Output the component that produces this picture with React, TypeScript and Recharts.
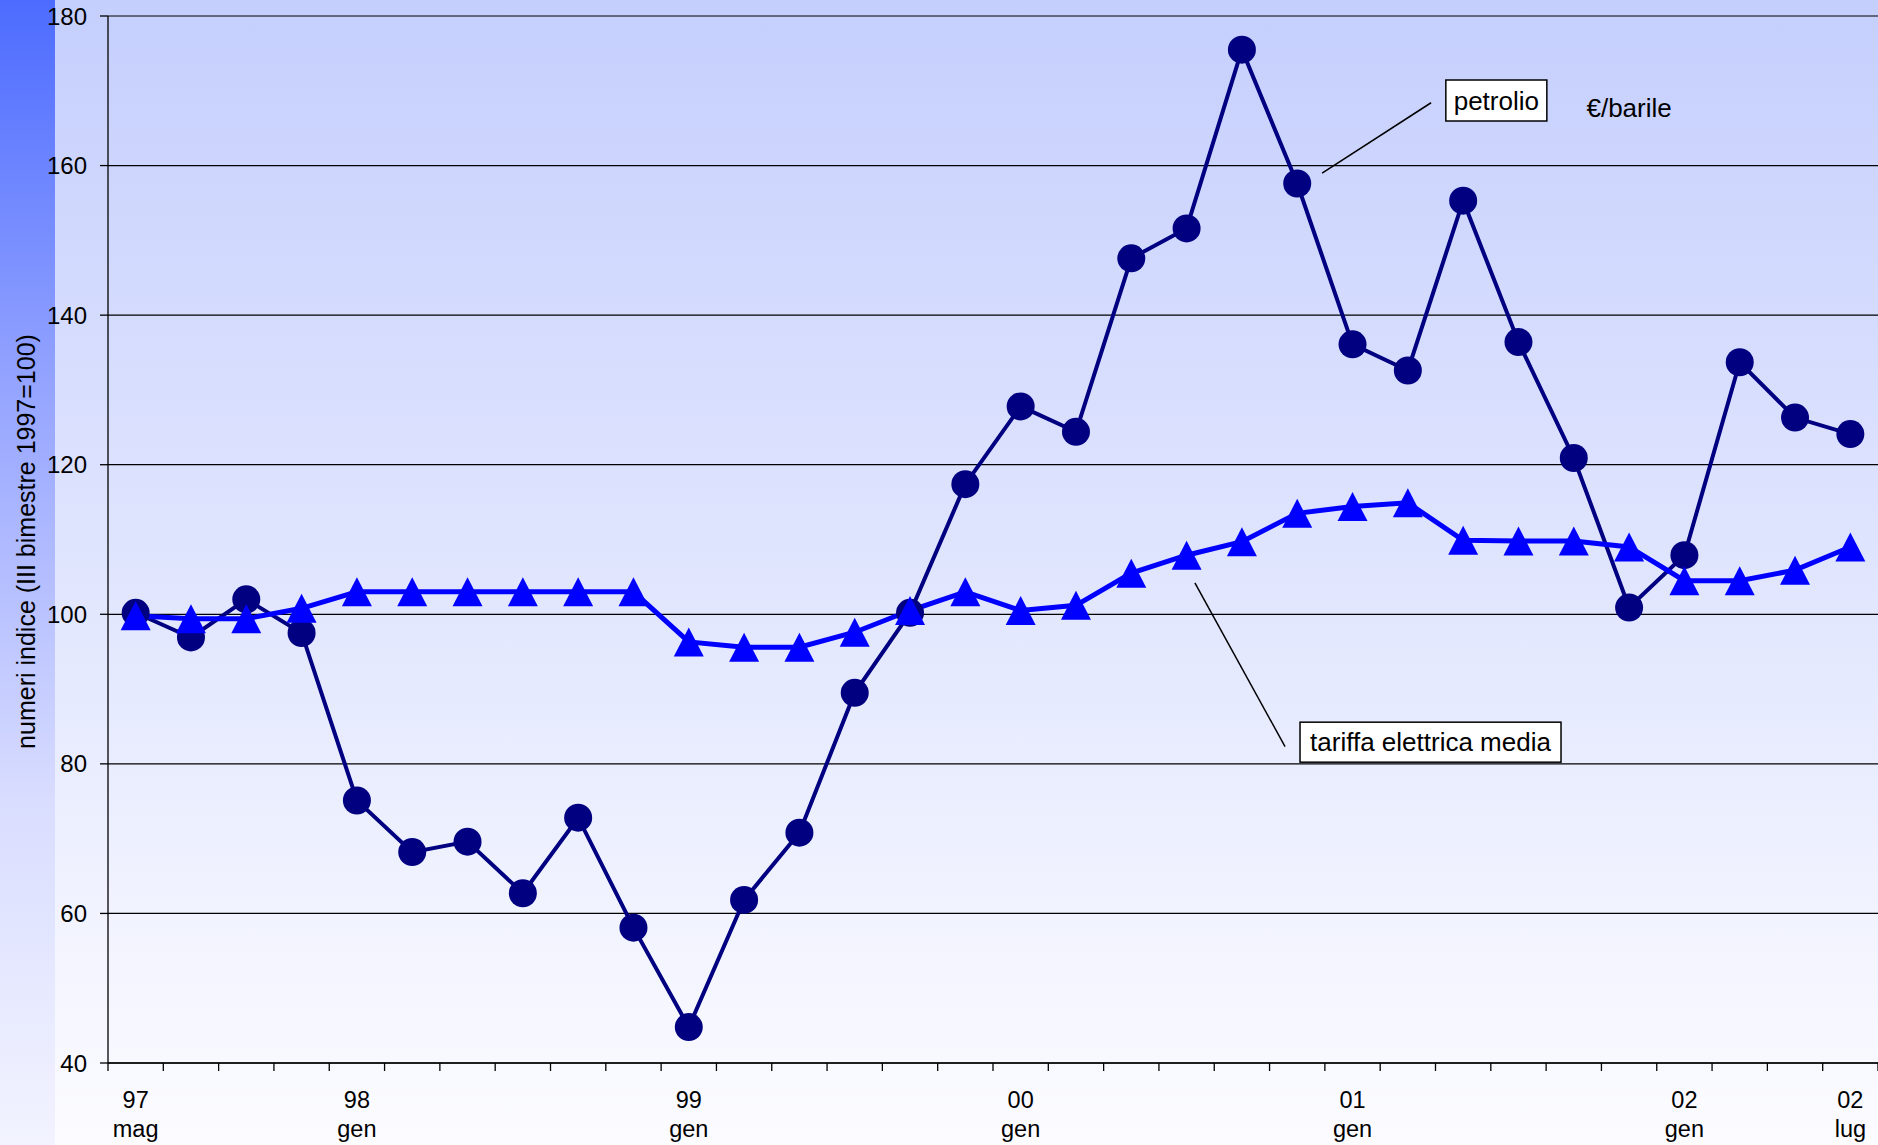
import React from "react";
import { LineChart, Line, XAxis, YAxis, CartesianGrid, ReferenceLine, ReferenceDot } from "recharts";

const periods = [
  "mag 97", "lug 97", "set 97", "nov 97",
  "gen 98", "mar 98", "mag 98", "lug 98", "set 98", "nov 98",
  "gen 99", "mar 99", "mag 99", "lug 99", "set 99", "nov 99",
  "gen 00", "mar 00", "mag 00", "lug 00", "set 00", "nov 00",
  "gen 01", "mar 01", "mag 01", "lug 01", "set 01", "nov 01",
  "gen 02", "mar 02", "mag 02", "lug 02",
];

const labeledPeriods = ["mag 97", "gen 98", "gen 99", "gen 00", "gen 01", "gen 02", "lug 02"];

const petrolio = [
  100.2, 96.9, 102.0, 97.5, 75.1, 68.2, 69.6, 62.7, 72.8, 58.1, 44.8, 61.8, 70.8, 89.5, 100.2, 117.4,
  127.8, 124.4, 147.6, 151.6, 175.5, 157.6, 136.1, 132.6, 155.3, 136.4, 120.9, 100.9, 107.9, 133.7, 126.3, 124.1,
];

const tariffa = [
  99.8, 99.4, 99.4, 100.8, 103.0, 103.0, 103.0, 103.0, 103.0, 103.0, 96.3, 95.6, 95.6, 97.6, 100.5, 103.0,
  100.5, 101.2, 105.5, 107.9, 109.7, 113.5, 114.4, 114.9, 109.9, 109.8, 109.8, 109.0, 104.5, 104.5, 105.9, 109.0,
];

const yTicks = [40, 60, 80, 100, 120, 140, 160, 180];

const data = periods.map((p, i) => ({ idx: i, period: p, petrolio: petrolio[i], tariffa: tariffa[i] }));

// tick marks sit between the periods, labels on the periods
const boundaries = periods.map((_, i) => i - 0.5).concat(periods.length - 0.5);
const labelIdx = labeledPeriods.map((p) => periods.indexOf(p));
const xTicks = [...boundaries, ...labelIdx];

const FONT = "'Liberation Sans', Arial, sans-serif";

const XTick = (props: any) => {
  const { x, y, payload } = props;
  const v = payload.value;
  if (!Number.isInteger(v)) {
    return <line x1={x} x2={x} y1={y} y2={y + 8} stroke="#000" strokeWidth={1.3} />;
  }
  const [m, yr] = periods[v].split(" ");
  return (
    <g fontFamily={FONT} fontSize={23.5} fill="#000">
      <text x={x} y={y + 45} textAnchor="middle">{yr}</text>
      <text x={x} y={y + 74} textAnchor="middle">{m}</text>
    </g>
  );
};

const TriangleDot = (props: any) => {
  const { cx, cy } = props;
  if (cx == null || cy == null) return null;
  return (
    <polygon
      points={`${cx},${cy - 14.5} ${cx + 15},${cy + 14.5} ${cx - 15},${cy + 14.5}`}
      fill="#0000ff"
    />
  );
};

const boxShape = (text: string, w: number, h: number) => (props: any) => {
  const { cx, cy } = props;
  return (
    <g>
      <rect x={cx - w / 2} y={cy - h / 2} width={w} height={h} fill="#fff" stroke="#000" strokeWidth={1.5} />
      <text x={cx} y={cy + 9} textAnchor="middle" fontFamily={FONT} fontSize={26} fill="#000">
        {text}
      </text>
    </g>
  );
};

const plainText = (text: string) => (props: any) => {
  const { cx, cy } = props;
  return (
    <text x={cx} y={cy + 9} textAnchor="middle" fontFamily={FONT} fontSize={26} fill="#000">
      {text}
    </text>
  );
};

const YLabel = (props: any) => {
  const { viewBox } = props;
  const cy = viewBox.y + viewBox.height / 2 + 2;
  return (
    <text
      x={26}
      y={cy}
      transform={`rotate(-90, 26, ${cy})`}
      textAnchor="middle"
      dominantBaseline="central"
      fontFamily={FONT}
      fontSize={25}
      fill="#000"
    >
      numeri indice (III bimestre 1997=100)
    </text>
  );
};

export default function App() {
  return (
    <div style={{ position: "absolute", left: 0, top: 0, width: 1878, height: 1145 }}>
      <div
        style={{
          position: "absolute", left: 0, top: 0, width: 55, height: 1145,
          background: "linear-gradient(to bottom, #4d6cff 0%, #97a6ff 35%, #d9ddff 70%, #f2f3ff 100%)",
        }}
      />
      <div
        style={{
          position: "absolute", left: 55, top: 0, width: 1823, height: 1145,
          background: "linear-gradient(to bottom, #c5cffd 0%, #fcfcff 100%)",
        }}
      />
      <div style={{ position: "absolute", left: 0, top: 0 }}>
        <LineChart
          width={1878}
          height={1145}
          data={data}
          margin={{ top: 16, right: 0, bottom: 0, left: 0 }}
          style={{ fontFamily: FONT }}
        >
          <CartesianGrid vertical={false} stroke="#000" strokeWidth={1.2} />
          <XAxis
            dataKey="idx"
            type="number"
            domain={[-0.5, periods.length - 0.5]}
            ticks={xTicks}
            interval={0}
            tick={<XTick />}
            tickLine={false}
            tickSize={0}
            tickMargin={0}
            height={82}
            axisLine={{ stroke: "#000", strokeWidth: 1.3 }}
          />
          <YAxis
            domain={[40, 180]}
            ticks={yTicks}
            interval={0}
            width={108}
            tickSize={8}
            tickMargin={13}
            tick={{ fill: "#000", fontSize: 24, fontFamily: FONT }}
            tickLine={{ stroke: "#000", strokeWidth: 1.3 }}
            axisLine={{ stroke: "#000", strokeWidth: 1.3 }}
            label={<YLabel />}
          />
          <ReferenceLine
            segment={[{ x: 21.45, y: 159 }, { x: 23.42, y: 168.4 }]}
            stroke="#000"
            strokeWidth={1.5}
          />
          <ReferenceLine
            segment={[{ x: 19.15, y: 104.2 }, { x: 20.78, y: 82.3 }]}
            stroke="#000"
            strokeWidth={1.5}
          />
          <Line
            dataKey="petrolio"
            type="linear"
            stroke="#000080"
            strokeWidth={4}
            dot={{ r: 14, fill: "#000080", stroke: "#000080", strokeWidth: 0 }}
            activeDot={false}
            isAnimationActive={false}
          />
          <Line
            dataKey="tariffa"
            type="linear"
            stroke="#0000ff"
            strokeWidth={5}
            dot={<TriangleDot />}
            activeDot={false}
            isAnimationActive={false}
          />
          <ReferenceDot x={24.6} y={168.7} r={0} shape={boxShape("petrolio", 101, 41)} />
          <ReferenceDot x={27.0} y={167.7} r={0} shape={plainText("€/barile")} />
          <ReferenceDot x={23.41} y={82.9} r={0} shape={boxShape("tariffa elettrica media", 261, 40)} />
        </LineChart>
      </div>
    </div>
  );
}
